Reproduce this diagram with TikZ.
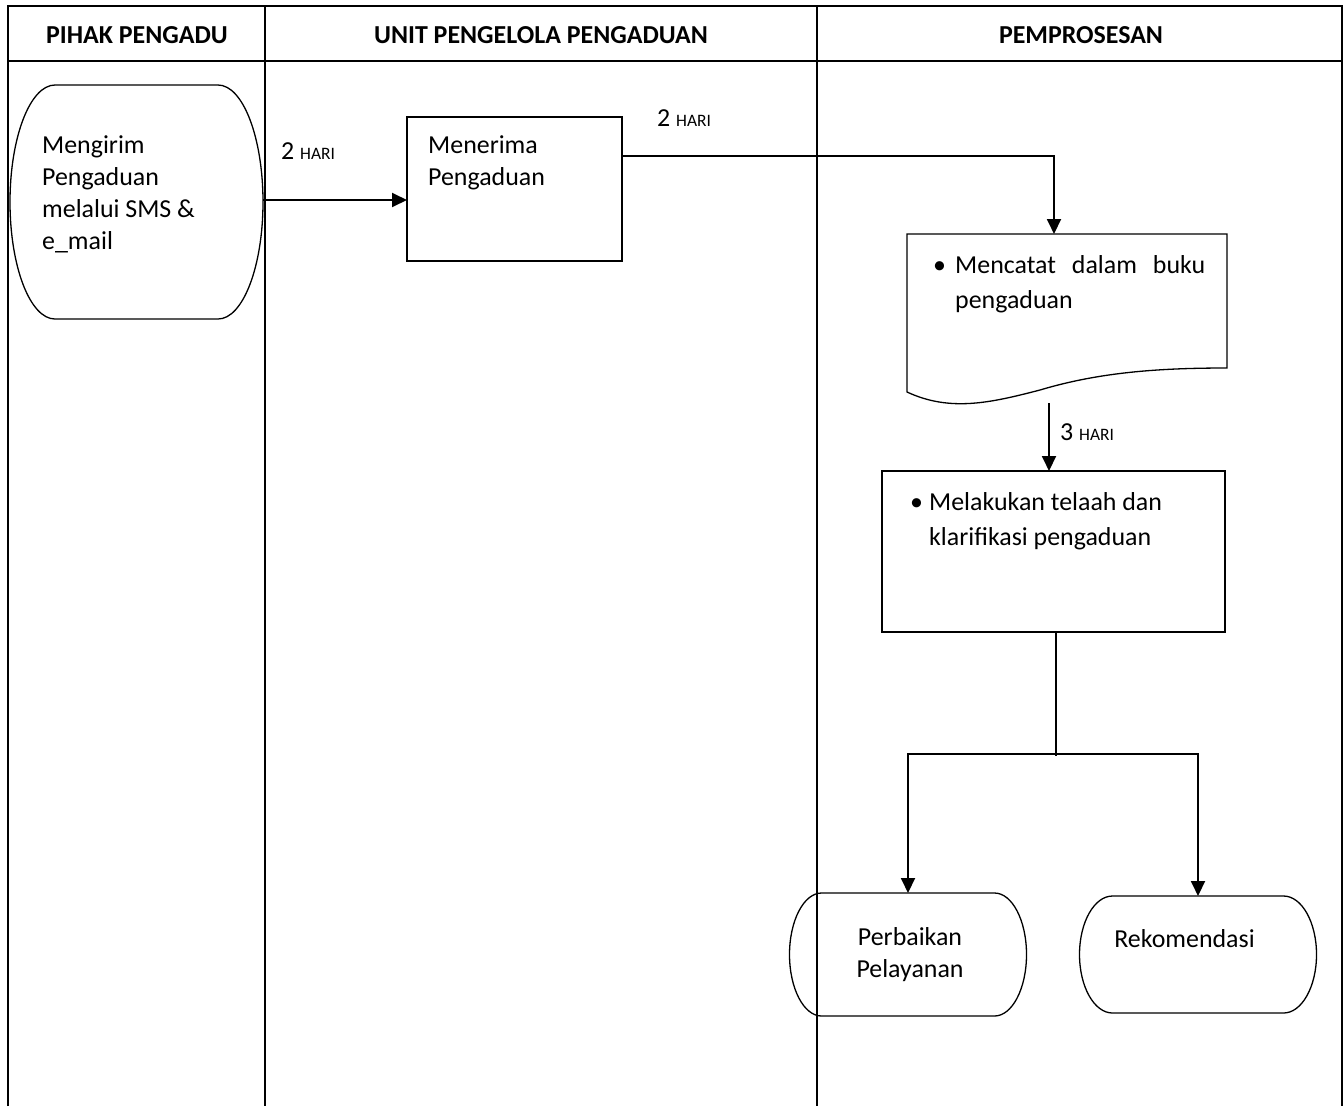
\documentclass[tikz,border=0pt]{standalone}
\usepackage{fontspec}
\setmainfont{Carlito}
\usetikzlibrary{arrows.meta}
\newcommand\mybody{\fontsize{26}{32.4}\selectfont}
\newcommand\mylist{\fontsize{26}{35.8}\selectfont}
\newcommand\myhdr{\fontsize{26}{30}\selectfont\bfseries}
\newcommand\mysmall[1]{{\fontsize{17.5}{20}\selectfont #1}}
\tikzset{
  lane/.style={line width=1.7bp},
  shp/.style={line width=1.3bp},
  box/.style={draw, line width=1.3bp, inner sep=0pt, outer sep=0pt},
  ghost/.style={inner sep=0pt, outer sep=0pt},
  hdr/.style={font=\myhdr, inner sep=0pt, anchor=base},
  txt/.style={font=\mybody, inner sep=0pt, anchor=base west, text width=260bp, align=flush left},
  ltxt/.style={font=\mylist, inner sep=0pt, anchor=base west, text width=320bp, align=flush left},
  lab/.style={font=\mybody, inner sep=0pt, anchor=base west},
  flow/.style={line width=1.9bp, -{Triangle[length=15bp,width=14bp]}},
  conn/.style={line width=1.4bp},
}
\begin{document}
\begin{tikzpicture}[x=1bp,y=-1bp]
\useasboundingbox (0,0) rectangle (1344,1106);
% swimlane table
\draw[lane] (8,1106) -- (8,6) -- (1342,6) -- (1342,1106);
\draw[lane] (8,61) -- (1342,61);
\draw[lane] (265,6) -- (265,1106);
\draw[lane] (817,6) -- (817,1106);
\node[hdr] (h1) at (137,43) {PIHAK PENGADU};
\node[hdr] (h2) at (541,43) {UNIT PENGELOLA PENGADUAN};
\node[hdr] (h3) at (1081,43) {PEMPROSESAN};

% terminal 1
\node[ghost, minimum width=253bp, minimum height=234bp] (t1) at (136.5,202) {};
\draw[shp] ([xshift=45bp]t1.north west) -- ([xshift=-45bp]t1.north east)
  arc[start angle=-90, end angle=90, x radius=45, y radius=117]
  -- ([xshift=45bp]t1.south west)
  arc[start angle=90, end angle=270, x radius=45, y radius=117] -- cycle;
\node[txt] (t1txt) at (42,153) {Mengirim\\Pengaduan\\melalui SMS \&\\e\_mail};

% box 1
\node[box, minimum width=215bp, minimum height=144bp] (b1) at (514.5,189) {};
\node[txt] (b1txt) at (428,153) {Menerima\\Pengaduan};

% arrow t1 -> b1
\draw[flow] (t1.east |- 0,200) -- (b1.west |- 0,200);
\node[lab] (l1) at (281,159) {2 \mysmall{HARI}};

% document shape
\node[ghost, minimum width=320bp, minimum height=134bp] (d1) at (1067,301) {};
\draw[shp] (d1.south east) -- (d1.north east) -- (d1.north west) -- (907,392)
  .. controls (950,412) and (990,403) .. (1040,390)
  .. controls (1100,372) and (1160,368) .. (d1.south east) -- cycle;
\node[ltxt] (d1txt) at (933,273) {\makebox[22bp][l]{•}\makebox[250bp][l]{Mencatat\hfill dalam\hfill buku}\\\hspace*{22bp}pengaduan};

% b1 -> d1
\coordinate (c1) at (1054,156);
\draw[flow] (b1.east |- c1) -- (c1) -- (c1 |- d1.north);
\node[lab] (l2) at (657,126) {2 \mysmall{HARI}};

% box 2
\node[box, minimum width=343bp, minimum height=161bp] (b2) at (1053.5,551.5) {};
\node[ltxt] (b2txt) at (910,510) {\makebox[19bp][l]{•}Melakukan telaah dan\\\hspace*{19bp}klarifikasi pengaduan};

% d1 -> b2
\coordinate (d1b) at (1049,403);
\draw[flow] (d1b) -- (d1b |- b2.north);
\node[lab] (l3) at (1060,440) {3 \mysmall{HARI}};

% terminals bottom
\node[ghost, minimum width=237bp, minimum height=123bp] (t2) at (908,954.5) {};
\draw[shp] ([xshift=32bp]t2.north west) -- ([xshift=-32bp]t2.north east)
  arc[start angle=-90, end angle=90, x radius=32, y radius=61.5]
  -- ([xshift=32bp]t2.south west)
  arc[start angle=90, end angle=270, x radius=32, y radius=61.5] -- cycle;
\node[font=\mybody, inner sep=0pt, anchor=base, text width=220bp, align=center] (t2txt) at (910,945) {Perbaikan\\Pelayanan};

\node[ghost, minimum width=237bp, minimum height=117bp] (t3) at (1198,954.5) {};
\draw[shp] ([xshift=33bp]t3.north west) -- ([xshift=-33bp]t3.north east)
  arc[start angle=-90, end angle=90, x radius=33, y radius=58.5]
  -- ([xshift=33bp]t3.south west)
  arc[start angle=90, end angle=270, x radius=33, y radius=58.5] -- cycle;
\node[font=\mybody, inner sep=0pt, anchor=base] (t3txt) at (1184.5,947) {Rekomendasi};

% b2 -> t2, t3
\coordinate (j) at (1056,754);
\draw[conn] (b2.south -| j) -- ([yshift=-2bp]j);
\draw[flow] (j) -| (t2.north);
\draw[flow] (j) -| (t3.north);
\end{tikzpicture}
\end{document}
